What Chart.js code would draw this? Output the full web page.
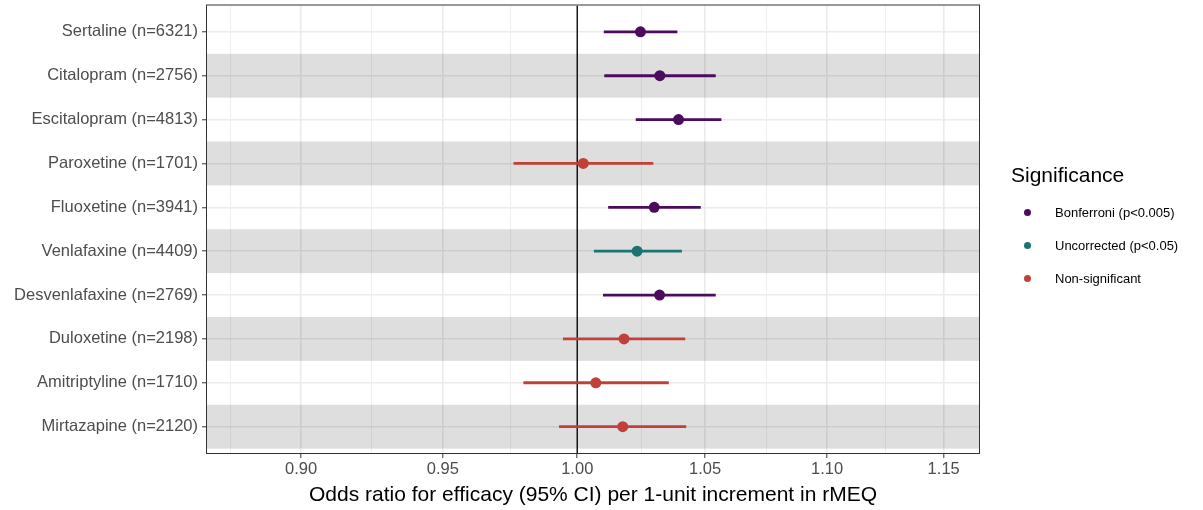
<!DOCTYPE html>
<html>
<head>
<meta charset="utf-8">
<script src="https://cdn.jsdelivr.net/npm/chart.js@4/dist/chart.umd.min.js"></script>
<style>
  html, body { margin: 0; padding: 0; background: #fff; }
  #wrap { position: relative; width: 1203px; height: 510px; font-family: "Liberation Sans", Arial, Helvetica, sans-serif; }
  #forest { position: absolute; left: 0; top: 0; }
  .lg-title { position: absolute; font-size: 21px; line-height: 21px; color: #000; white-space: nowrap; }
  .lg-item { position: absolute; height: 20px; display: flex; align-items: center; white-space: nowrap; font-size: 13px; color: #000; }
  .lg-dot { width: 7px; height: 7px; border-radius: 50%; margin-right: 24px; }
</style>
</head>
<body>
<div id="wrap">
  <canvas id="forest" width="1203" height="510"></canvas>
  <div id="legend"></div>
</div>
<script>
// ── Data ──────────────────────────────────────────────────
const drugLabels = [
  "Sertaline (n=6321)",
  "Citalopram (n=2756)",
  "Escitalopram (n=4813)",
  "Paroxetine (n=1701)",
  "Fluoxetine (n=3941)",
  "Venlafaxine (n=4409)",
  "Desvenlafaxine (n=2769)",
  "Duloxetine (n=2198)",
  "Amitriptyline (n=1710)",
  "Mirtazapine (n=2120)",
];
const oddsRatio = [1.0244, 1.0320, 1.0394, 1.0023, 1.0298, 1.0231, 1.0319, 1.0180, 1.0071, 1.0175];
const ciLower   = [1.0103, 1.0105, 1.0227, 0.9761, 1.0120, 1.0065, 1.0100, 0.9947, 0.9798, 0.9932];
const ciUpper   = [1.0388, 1.0541, 1.0564, 1.0293, 1.0481, 1.0406, 1.0541, 1.0419, 1.0354, 1.0423];
const significance = [
  "Bonferroni (p<0.005)",
  "Bonferroni (p<0.005)",
  "Bonferroni (p<0.005)",
  "Non-significant",
  "Bonferroni (p<0.005)",
  "Uncorrected (p<0.05)",
  "Bonferroni (p<0.005)",
  "Non-significant",
  "Non-significant",
  "Non-significant",
];
const groupNames  = ["Bonferroni (p<0.005)", "Uncorrected (p<0.05)", "Non-significant"];
const groupColors = ["#4B0C5E", "#1A7472", "#C2403A"];

const xTickValues  = [0.90, 0.95, 1.00, 1.05, 1.10, 1.15];
const xTickLabels  = ["0.90", "0.95", "1.00", "1.05", "1.10", "1.15"];
const xMinorValues = [0.876, 0.9247, 0.9747, 1.0247, 1.0747, 1.1247];
const refValue = 1.0;

// ── Helpers ───────────────────────────────────────────────
const colorOf = (g) => groupColors[groupNames.indexOf(g)];
const isMajor = (v) => xTickValues.some((t) => Math.abs(t - v) < 1e-6);
const FONT = '"Liberation Sans", Arial, Helvetica, sans-serif';

// shaded bands on every other row + panel border
const panelPlugin = {
  id: "panel",
  beforeDatasetsDraw(chart) {
    const { ctx, chartArea: a, scales: { y } } = chart;
    ctx.save();
    ctx.fillStyle = "rgba(0,0,0,0.13)";
    drugLabels.forEach((_, i) => {
      if (i % 2 === 0) return;
      const y1 = y.getPixelForValue(i - 0.5);
      const y2 = y.getPixelForValue(i + 0.5);
      ctx.fillRect(a.left, Math.min(y1, y2), a.right - a.left, Math.abs(y2 - y1));
    });
    ctx.restore();
  },
  afterDatasetsDraw(chart) {
    const { ctx, chartArea: a } = chart;
    ctx.save();
    ctx.strokeStyle = "#333333";
    ctx.lineWidth = 1;
    ctx.strokeRect(a.left - 0.5, a.top - 0.5, a.right - a.left + 1, a.bottom - a.top + 1);
    ctx.restore();
  },
};

// ── Datasets ──────────────────────────────────────────────
const pointSets = groupNames.map((g, gi) => ({
  type: "scatter",
  label: g,
  data: drugLabels
    .map((_, i) => ({ x: oddsRatio[i], y: i, g: significance[i] }))
    .filter((d) => d.g === g),
  backgroundColor: groupColors[gi],
  borderWidth: 0,
  pointRadius: 5.5,
  pointHoverRadius: 5.5,
}));

const ciBars = {
  type: "bar",
  label: "95% CI",
  indexAxis: "y",
  data: drugLabels.map((_, i) => ({ y: i, x: [ciLower[i], ciUpper[i]] })),
  backgroundColor: significance.map(colorOf),
  borderWidth: 0,
  barThickness: 2.2,
  grouped: false,
};

const refLine = {
  type: "line",
  label: "ref",
  data: [{ x: refValue, y: -0.6 }, { x: refValue, y: 9.6 }],
  borderColor: "#000000",
  borderWidth: 1.3,
  pointRadius: 0,
  fill: false,
};

// ── Chart ─────────────────────────────────────────────────
new Chart(document.getElementById("forest"), {
  type: "scatter",
  data: { datasets: [...pointSets, ciBars, refLine] },
  plugins: [panelPlugin],
  options: {
    responsive: false,
    animation: false,
    devicePixelRatio: 1,
    layout: { padding: { top: 5, right: 224, left: 0, bottom: 0 } },
    plugins: { legend: { display: false }, tooltip: { enabled: false } },
    scales: {
      x: {
        type: "logarithmic",
        min: 0.8683,
        max: 1.1656,
        offset: false,
        beginAtZero: false,
        border: { display: false },
        afterBuildTicks: (s) => {
          s.ticks = [...xTickValues, ...xMinorValues].sort((a, b) => a - b).map((v) => ({ value: v }));
        },
        afterFit: (s) => {
          s.height = 57;
          s.paddingLeft = 0;
          s.paddingRight = 0;
        },
        ticks: {
          autoSkip: false,
          maxRotation: 0,
          padding: 2,
          color: "#4D4D4D",
          font: { family: FONT, size: 16.5 },
          callback: (v) => {
            const k = xTickValues.findIndex((t) => Math.abs(t - v) < 1e-6);
            return k >= 0 ? xTickLabels[k] : "";
          },
        },
        grid: {
          offset: false,
          color: "#EBEBEB",
          lineWidth: (c) => (c.tick && isMajor(c.tick.value) ? 1.6 : 0.8),
          tickColor: (c) => (c.tick && isMajor(c.tick.value) ? "#333333" : "rgba(0,0,0,0)"),
          tickLength: 5,
          tickWidth: 1,
        },
        title: {
          display: true,
          text: "Odds ratio for efficacy (95% CI) per 1-unit increment in rMEQ",
          color: "#000000",
          font: { family: FONT, size: 21 },
          padding: { top: 0, bottom: 2 },
        },
      },
      y: {
        type: "linear",
        min: -0.6,
        max: 9.6,
        reverse: true,
        offset: false,
        border: { display: false },
        afterBuildTicks: (s) => {
          s.ticks = drugLabels.map((_, i) => ({ value: i }));
        },
        afterFit: (s) => {
          s.width = 207;
          s.paddingTop = 0;
          s.paddingBottom = 0;
        },
        ticks: {
          autoSkip: false,
          padding: 4,
          color: "#4D4D4D",
          font: { family: FONT, size: 16.5 },
          callback: (v) => drugLabels[v] ?? "",
        },
        grid: {
          offset: false,
          color: "#EBEBEB",
          lineWidth: 1.6,
          tickColor: "#333333",
          tickLength: 5,
          tickWidth: 1,
        },
      },
    },
  },
});

// ── Legend ────────────────────────────────────────────────
const legend = document.getElementById("legend");
const title = document.createElement("div");
title.className = "lg-title";
title.textContent = "Significance";
title.style.left = "1011px";
title.style.top = "164px";
legend.appendChild(title);

const legendCentersY = [212, 245, 278];
groupNames.forEach((g, i) => {
  const row = document.createElement("div");
  row.className = "lg-item";
  row.style.left = "1024px";
  row.style.top = `${legendCentersY[i] - 10}px`;
  row.innerHTML = `<span class="lg-dot" style="background:${groupColors[i]}"></span><span>${g.replace("<", "&lt;")}</span>`;
  legend.appendChild(row);
});
</script>
</body>
</html>
